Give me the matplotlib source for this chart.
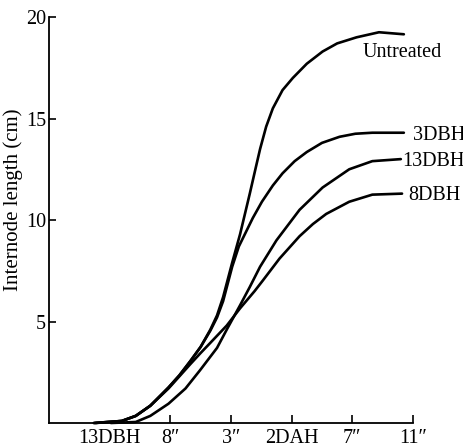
import numpy as np
from matplotlib import pyplot as plt

plt.rcParams['font.family'] = ['Liberation Serif', 'DejaVu Serif']

# x axis stage labels (category positions 0..5)
stages = ['13DBH', '8\u2033', '3\u2033', '2DAH', '7\u2033', '11\u2033']

# curves: (stage position, internode length in cm)
untreated_x = [-0.26, 0.2, 0.43, 0.67, 0.97, 1.15, 1.33, 1.5, 1.66, 1.77, 1.87, 2.02, 2.15, 2.31, 2.41, 2.48, 2.58,
               2.69, 2.85, 3.02, 3.25, 3.51, 3.75, 4.07, 4.44, 4.85]
untreated_y = [0.0, 0.1, 0.35, 0.85, 1.75, 2.35, 3.05, 3.75, 4.6, 5.3, 6.2, 7.9, 9.3, 11.3, 12.6, 13.5, 14.6,
               15.5, 16.4, 17.0, 17.7, 18.3, 18.7, 19.0, 19.25, 19.15]

dbh3_x = [-0.26, 0.2, 0.43, 0.67, 0.97, 1.15, 1.33, 1.5, 1.66, 1.77, 1.87, 2.02, 2.13, 2.36, 2.51, 2.69, 2.85,
          3.05, 3.25, 3.5, 3.79, 4.05, 4.33, 4.85]
dbh3_y = [0.0, 0.1, 0.35, 0.85, 1.75, 2.35, 3.05, 3.75, 4.55, 5.2, 6.0, 7.7, 8.7, 10.1, 10.9, 11.7, 12.3,
          12.9, 13.35, 13.8, 14.1, 14.25, 14.3, 14.3]

dbh13_x = [0.02, 0.43, 0.67, 0.97, 1.25, 1.49, 1.77, 1.93, 2.15, 2.31, 2.48, 2.75, 3.13, 3.51, 3.95, 4.33, 4.80]
dbh13_y = [0.0, 0.05, 0.35, 0.95, 1.7, 2.6, 3.7, 4.6, 5.8, 6.7, 7.7, 9.0, 10.5, 11.6, 12.5, 12.9, 13.0]

dbh8_x = [-0.23, 0.2, 0.43, 0.67, 0.97, 1.15, 1.33, 1.5, 1.66, 1.93, 2.15, 2.39, 2.52, 2.80, 3.13, 3.35, 3.57,
          3.95, 4.33, 4.82]
dbh8_y = [0.0, 0.1, 0.35, 0.85, 1.7, 2.3, 2.9, 3.45, 3.95, 4.8, 5.65, 6.5, 7.0, 8.1, 9.2, 9.8, 10.3,
          10.9, 11.25, 11.3]

fig = plt.figure(figsize=(4.64, 4.48), dpi=100)
ax = fig.add_axes([0.1056, 0.0558, 0.7844, 0.9062])

lw = 1.9
for xs, ys in [(untreated_x, untreated_y), (dbh3_x, dbh3_y), (dbh13_x, dbh13_y), (dbh8_x, dbh8_y)]:
    ax.plot(xs, ys, color='black', lw=lw, solid_joinstyle='round', solid_capstyle='round', clip_on=False)

# curve labels
fs = 14.5
ax.text(4.82, 18.25, 'Untreated', ha='center', va='center', fontsize=fs, clip_on=False)
ax.text(5.0, 14.15, '3DBH', ha='left', va='center', fontsize=fs, clip_on=False)
ax.text(4.82, 12.9, '13DBH', ha='left', va='center', fontsize=fs, clip_on=False)
ax.text(4.93, 11.2, '8DBH', ha='left', va='center', fontsize=fs, clip_on=False)

ax.set_xlim(-1, 5)
ax.set_ylim(0, 20)
ax.set_xticks(range(len(stages)))
ax.set_xticklabels(stages, fontsize=14.5)
ax.set_yticks([5, 10, 15, 20])
ax.set_yticklabels(['5', '10', '15', '20'], fontsize=14.5)
ax.tick_params(axis='x', direction='in', length=6, width=1.2, pad=4)
ax.tick_params(axis='y', direction='in', length=5, width=1.2, pad=2)
ax.xaxis.get_major_ticks()[0].tick1line.set_visible(False)

ax.spines['top'].set_visible(False)
ax.spines['right'].set_visible(False)
ax.spines['left'].set_linewidth(1.3)
ax.spines['bottom'].set_linewidth(1.3)

ax.set_ylabel('Internode length (cm)', fontsize=15)
ax.yaxis.set_label_coords(-0.071, 0.55)

fig.savefig('out.png', dpi=100)
